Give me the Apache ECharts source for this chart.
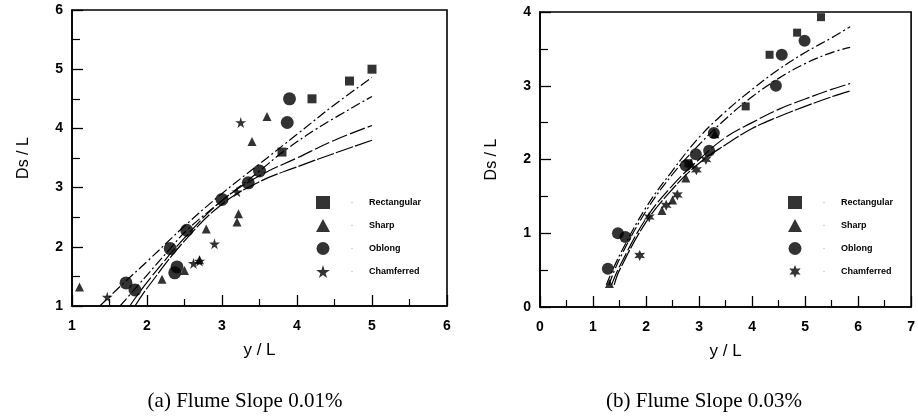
<!DOCTYPE html>
<html><head><meta charset="utf-8">
<script src="https://cdn.jsdelivr.net/npm/echarts@6/dist/echarts.min.js"></script>
<style>html,body{margin:0;padding:0;background:#fff}#c{width:918px;height:418px}</style>
</head><body><div id="c"></div>
<script>
// ---------- data: chart (a) Flume Slope 0.01% ----------
const rectA = [[5.0,5.0],[4.7,4.8],[4.2,4.5],[3.8,3.6]];
const sharpA = [[1.1,1.32],[2.2,1.45],[2.5,1.6],[2.7,1.78],[2.79,2.3],[3.2,2.42],[3.22,2.56],[3.4,3.78],[3.6,4.2]];
const oblongA = [[3.9,4.5],[3.87,4.1],[3.5,3.28],[3.35,3.08],[3.0,2.8],[2.53,2.28],[2.31,1.97],[2.4,1.66],[2.37,1.56],[1.72,1.39],[1.84,1.27]];
const chamA = [[1.47,1.15],[2.62,1.72],[2.7,1.76],[2.9,2.05],[3.25,4.1],[3.2,2.93]];
const curveA1 = [[1.37,1.0],[1.7,1.4],[2.0,1.75],[2.5,2.35],[3.0,2.9],[3.5,3.4],[4.0,3.9],[4.5,4.4],[5.0,4.86]];
const curveA2 = [[1.64,1.0],[1.84,1.29],[2.31,1.97],[2.53,2.28],[3.0,2.78],[3.5,3.28],[3.81,3.6],[4.27,4.0],[5.0,4.54]];
const curveA3 = [[1.77,1.0],[2.0,1.4],[2.5,2.15],[3.0,2.78],[3.5,3.2],[4.0,3.5],[4.5,3.8],[5.0,4.05]];
const curveA4 = [[1.84,1.0],[2.0,1.3],[2.5,2.1],[3.0,2.72],[3.5,3.1],[4.0,3.35],[4.5,3.58],[5.0,3.8]];
const xTicksA = [1,2,3,4,5,6];
const yTicksA = [1,2,3,4,5,6];

// ---------- data: chart (b) Flume Slope 0.03% ----------
const rectB = [[5.3,3.93],[4.85,3.72],[4.33,3.42],[3.88,2.72],[2.8,1.95]];
const sharpB = [[1.31,0.32],[2.3,1.31],[2.5,1.45],[2.75,1.75],[2.85,1.95],[3.3,2.35]];
const oblongB = [[1.28,0.52],[1.47,1.0],[1.61,0.95],[2.75,1.92],[2.94,2.07],[3.19,2.12],[3.28,2.36],[4.45,3.0],[4.99,3.61],[4.56,3.42]];
const chamB = [[1.88,0.7],[2.59,1.52],[2.06,1.22],[2.38,1.38],[3.13,2.0],[2.95,1.86]];
const curveB1 = [[1.25,0.3],[1.5,0.7],[2.0,1.35],[2.5,1.85],[3.0,2.3],[3.5,2.65],[4.0,2.95],[4.5,3.22],[5.0,3.45],[5.5,3.65],[5.85,3.8]];
const curveB2 = [[1.3,0.3],[1.5,0.65],[2.0,1.3],[2.5,1.8],[3.0,2.2],[3.5,2.55],[4.0,2.85],[4.5,3.1],[5.0,3.3],[5.5,3.45],[5.85,3.52]];
const curveB3 = [[1.35,0.3],[1.5,0.55],[2.0,1.2],[2.5,1.65],[3.0,2.0],[3.5,2.3],[4.0,2.5],[4.5,2.68],[5.0,2.82],[5.5,2.95],[5.85,3.03]];
const curveB4 = [[1.4,0.3],[1.5,0.5],[2.0,1.15],[2.5,1.6],[3.0,1.95],[3.5,2.2],[4.0,2.42],[4.5,2.58],[5.0,2.72],[5.5,2.85],[5.85,2.93]];
const xTicksB = [0,1,2,3,4,5,6,7];
const yTicksB = [0,1,2,3,4];

const names = ['Rectangular','Sharp','Oblong','Chamferred'];
const captions = ['(a) Flume Slope 0.01%','(b) Flume Slope 0.03%'];

// ---------- styling ----------
const STAR5 = 'path://M50,0 L61,35 L98,35 L68,57 L79,91 L50,70 L21,91 L32,57 L2,35 L39,35 Z';
const STAR6 = 'path://M50,0 L62,29 L93,25 L74,50 L93,75 L62,71 L50,100 L38,71 L7,75 L26,50 L7,25 L38,29 Z';
const SANS = 'Liberation Sans, Arial, sans-serif';
const SERIF = 'Liberation Serif, Times New Roman, serif';

function xAx(idx, ticks){
  return {gridIndex: idx, type:'value', min: ticks[0], max: ticks[ticks.length-1], interval: 1,
    name:'y / L', nameLocation:'middle', nameGap: 36,
    nameTextStyle:{fontFamily:SANS, fontSize:17, color:'#000'},
    axisLine:{onZero:false, lineStyle:{color:'#000', width:1.6}},
    axisTick:{inside:true, length:11, lineStyle:{color:'#000', width:1.3}},
    minorTick:{show:true, splitNumber:2, length:7, lineStyle:{color:'#000', width:1.2}},
    splitLine:{show:false},
    axisLabel:{margin:13, fontFamily:SANS, fontWeight:'bold', fontSize:14, color:'#000'}};
}
function yAx(idx, ticks){
  return {gridIndex: idx, type:'value', min: ticks[0], max: ticks[ticks.length-1], interval: 1,
    name:'Ds / L', nameLocation:'middle', nameGap: 40,
    nameTextStyle:{fontFamily:SANS, fontSize:16, color:'#000'},
    axisLine:{onZero:false, lineStyle:{color:'#000', width:1.6}},
    axisTick:{inside:true, length:11, lineStyle:{color:'#000', width:1.3}},
    minorTick:{show:true, splitNumber:2, length:8, lineStyle:{color:'#000', width:1.2}},
    splitLine:{show:false},
    axisLabel:{margin:9, fontFamily:SANS, fontWeight:'bold', fontSize:14, color:'#000'}};
}
function pts(name, data, symbol, size, g){
  return {name, type:'scatter', xAxisIndex:g, yAxisIndex:g, data, symbol, symbolSize:size,
    itemStyle:{color:'#000'}, z:5, silent:true};
}
function curve(data, dash, g){
  return {name:'fit', type:'line', xAxisIndex:g, yAxisIndex:g, data, smooth:0.4, showSymbol:false,
    lineStyle:{color:'#000', width:1.2, type:dash}, z:3, silent:true};
}
function legend(left, star){
  const icons = ['rect','triangle','circle', star];
  return {orient:'vertical', left, top:191, itemWidth:14, itemHeight:13, itemGap:10,
    selectedMode:false,
    data: names.map((n,i)=>({name:n, icon:icons[i]})),
    formatter: n => '{d|·}{t|'+n+'}',
    textStyle:{color:'#000', rich:{
      d:{width:34, align:'center', fontSize:9, color:'#999'},
      t:{fontFamily:SANS, fontWeight:'bold', fontSize:9, color:'#000'}}}};
}

const chart = echarts.init(document.getElementById('c'), null, {renderer:'canvas'});
chart.setOption({
  backgroundColor:'#fff',
  animation:false,
  grid:[
    {left:72, right:918-447, top:10, bottom:418-306, show:true, borderColor:'#000', borderWidth:1.6},
    {left:540, right:918-913, top:12, bottom:418-307, show:true, borderColor:'#000', borderWidth:1.6}
  ],
  xAxis:[xAx(0,xTicksA), xAx(1,xTicksB)],
  yAxis:[yAx(0,yTicksA), yAx(1,yTicksB)],
  legend:[legend(311, STAR5), legend(783, STAR6)],
  series:[
    curve(curveA1,[10,3,2,3],0), curve(curveA2,[10,3,2,3],0), curve(curveA3,[16,3],0), curve(curveA4,[18,2],0),
    pts(names[0], rectA, 'rect', 9, 0), pts(names[1], sharpA, 'triangle', 9, 0),
    pts(names[2], oblongA, 'circle', 13, 0), pts(names[3], chamA, STAR5, 11, 0),
    curve(curveB1,[10,3,2,3],1), curve(curveB2,[10,3,2,3],1), curve(curveB3,[16,3],1), curve(curveB4,[18,2],1),
    pts(names[0], rectB, 'rect', 8, 1), pts(names[1], sharpB, 'triangle', 9, 1),
    pts(names[2], oblongB, 'circle', 12, 1), pts(names[3], chamB, STAR6, 11, 1)
  ],
  graphic:[
    {type:'text', x:245, y:401, style:{text:captions[0], font:'21px '+SERIF, fill:'#000', textAlign:'center', textVerticalAlign:'middle'}},
    {type:'text', x:704, y:401, style:{text:captions[1], font:'21px '+SERIF, fill:'#000', textAlign:'center', textVerticalAlign:'middle'}}
  ]
});
</script></body></html>
